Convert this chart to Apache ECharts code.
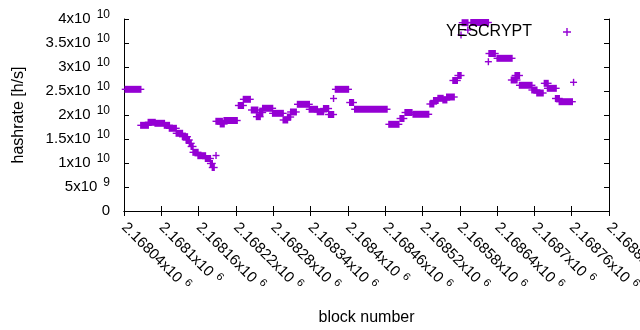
<!DOCTYPE html>
<html>
<head>
<meta charset="utf-8">
<script src="https://cdn.jsdelivr.net/npm/echarts@6/dist/echarts.min.js"></script>
<style>
  html, body { margin: 0; padding: 0; background: #fff; }
  #chart { width: 640px; height: 330px; }
</style>
</head>
<body>
<div id="chart"></div>
<script>
// runs of blocks with the same hashrate: first block, last block, hashrate [h/s]
var segStart = [2168042, 2168067, 2168079, 2168090, 2168105, 2168113, 2168124, 2168134, 2168140, 2168145,
                2168148, 2168151, 2168159, 2168171, 2168179, 2168182, 2168188, 2168188, 2168195, 2168201,
                2168224, 2168232, 2168245, 2168253, 2168258, 2168263, 2168279, 2168296, 2168303, 2168308,
                2168319, 2168338, 2168351, 2168361, 2168369, 2168377, 2168380, 2168403, 2168411, 2168466,
                2168484, 2168492, 2168505, 2168532, 2168538, 2168545, 2168553, 2168559, 2168569, 2168577,
                2168582, 2168584, 2168593, 2168598, 2168626, 2168627, 2168640, 2168663, 2168669, 2168676,
                2168696, 2168704, 2168716, 2168721, 2168734, 2168740, 2168763];
var segEnd   = [2168067, 2168079, 2168090, 2168105, 2168113, 2168124, 2168134, 2168142, 2168145, 2168148,
                2168151, 2168159, 2168171, 2168179, 2168182, 2168185, 2168188, 2168198, 2168201, 2168222,
                2168232, 2168243, 2168255, 2168259, 2168263, 2168279, 2168296, 2168303, 2168308, 2168317,
                2168338, 2168351, 2168361, 2168369, 2168377, 2168377, 2168401, 2168409, 2168463, 2168482,
                2168490, 2168503, 2168530, 2168538, 2168545, 2168553, 2168559, 2168571, 2168576, 2168582,
                2168582, 2168593, 2168593, 2168626, 2168626, 2168637, 2168664, 2168672, 2168676, 2168696,
                2168704, 2168714, 2168722, 2168735, 2168740, 2168761, 2168763];
var segValue = [2.535e10, 1.785e10, 1.848e10, 1.827e10, 1.785e10, 1.723e10, 1.619e10, 1.548e10, 1.479e10, 1.410e10,
                1.344e10, 1.223e10, 1.152e10, 1.094e10, 9.90e9, 9.06e9, 1.156e10, 1.869e10, 1.813e10, 1.885e10,
                2.198e10, 2.327e10, 2.104e10, 1.965e10, 2.052e10, 2.140e10, 2.035e10, 1.896e10, 1.958e10, 2.063e10,
                2.223e10, 2.119e10, 2.067e10, 2.135e10, 2.010e10, 2.344e10, 2.535e10, 2.260e10, 2.119e10, 1.806e10,
                1.927e10, 2.052e10, 2.015e10, 2.229e10, 2.302e10, 2.348e10, 2.313e10, 2.375e10, 2.719e10, 2.823e10,
                3.667e10, 3.923e10, 3.771e10, 3.927e10, 3.110e10, 3.281e10, 3.181e10, 2.729e10, 2.823e10, 2.619e10,
                2.521e10, 2.458e10, 2.660e10, 2.556e10, 2.344e10, 2.277e10, 2.681e10];

var xMin = 2168040, xMax = 2168820, xStep = 60;
var xTickMant = ['2.16804', '2.1681', '2.16816', '2.16822', '2.16828', '2.16834', '2.1684',
                 '2.16846', '2.16852', '2.16858', '2.16864', '2.1687', '2.16876', '2.16882'];
var yTickMant = ['0', '5', '1', '1.5', '2', '2.5', '3', '3.5', '4'];
var yTickExp  = ['', '9', '10', '10', '10', '10', '10', '10', '10'];

var purple = '#9400d3';
var font = 'Liberation Sans';

var data = [];
for (var i = 0; i < segStart.length; i++) data.push([segStart[i], segEnd[i], segValue[i]]);

var chart = echarts.init(document.getElementById('chart'), null, {renderer: 'canvas'});

var tickStyle = {inside: true, length: 5, lineStyle: {color: '#000', width: 1}};
var lineStyle = {show: true, lineStyle: {color: '#000', width: 1}};

chart.setOption({
  animation: false,
  backgroundColor: '#fff',
  textStyle: {fontFamily: font},
  grid: {left: 124, right: 31, top: 19, bottom: 119, outerBoundsMode: 'none'},
  legend: {
    right: 69, top: 24, padding: 0,
    align: 'right',
    itemWidth: 8, itemHeight: 8,
    textStyle: {fontSize: 16, color: '#000', fontFamily: font, padding: [0, 26, 0, 0]},
    data: [{name: 'YESCRYPT', icon: 'path://M3.3,0h1.4v3.3h3.3v1.4h-3.3v3.3h-1.4v-3.3h-3.3v-1.4h3.3z'}]
  },
  xAxis: [{
    type: 'value', min: xMin, max: xMax, interval: xStep,
    name: 'block number', nameLocation: 'middle', nameGap: 99,
    nameTextStyle: {fontSize: 16, color: '#000', fontFamily: font},
    axisLine: lineStyle, axisTick: tickStyle, splitLine: {show: false},
    axisLabel: {
      rotate: -45, margin: 14, color: '#000', fontSize: 15, fontFamily: font,
      showMaxLabel: true, showMinLabel: true, hideOverlap: false,
      formatter: function (v) {
        var k = Math.round((v - xMin) / xStep);
        return '{m|' + xTickMant[k] + 'x10}{e|6}';
      },
      rich: {
        m: {fontSize: 15, fontFamily: font, color: '#000'},
        e: {fontSize: 11, fontFamily: font, color: '#000', padding: [0, 0, 9, 5]}
      }
    }
  }, {
    type: 'value', position: 'top', min: xMin, max: xMax, interval: xStep,
    axisLine: lineStyle, axisTick: tickStyle, axisLabel: {show: false}, splitLine: {show: false}
  }],
  yAxis: [{
    type: 'value', min: 0, max: 4e10, interval: 5e9,
    name: 'hashrate [h/s]', nameLocation: 'middle', nameGap: 97,
    nameTextStyle: {fontSize: 16, color: '#000', fontFamily: font},
    axisLine: lineStyle, axisTick: tickStyle, splitLine: {show: false},
    axisLabel: {
      margin: 14, color: '#000', fontSize: 15, fontFamily: font,
      formatter: function (v) {
        var k = Math.round(v / 5e9);
        if (!yTickExp[k]) return '{m|' + yTickMant[k] + '}';
        return '{m|' + yTickMant[k] + 'x10}{e|' + yTickExp[k] + '}';
      },
      rich: {
        m: {fontSize: 15, fontFamily: font, color: '#000'},
        e: {fontSize: 12, fontFamily: font, color: '#000', padding: [0, 0, 9, 6]}
      }
    }
  }, {
    type: 'value', position: 'right', min: 0, max: 4e10, interval: 5e9,
    axisLine: lineStyle, axisTick: tickStyle, axisLabel: {show: false}, splitLine: {show: false}
  }],
  series: [{
    name: 'YESCRYPT',
    type: 'custom',
    color: purple,
    xAxisIndex: 0, yAxisIndex: 0,
    clip: false,
    encode: {x: [0, 1], y: 2},
    data: data,
    renderItem: function (params, api) {
      var p0 = api.coord([api.value(0), api.value(2)]);
      var p1 = api.coord([api.value(1), api.value(2)]);
      var h = 3.5;
      return {
        type: 'group',
        children: [{
          type: 'rect',
          shape: {x: p0[0] - 0.7, y: p0[1] - h, width: p1[0] - p0[0] + 1.4, height: 2 * h},
          style: {fill: purple}
        }, {
          type: 'line',
          shape: {x1: p0[0] - h, y1: p0[1], x2: p1[0] + h, y2: p1[1]},
          style: {stroke: purple, lineWidth: 1.4}
        }]
      };
    }
  }]
});
</script>
</body>
</html>
